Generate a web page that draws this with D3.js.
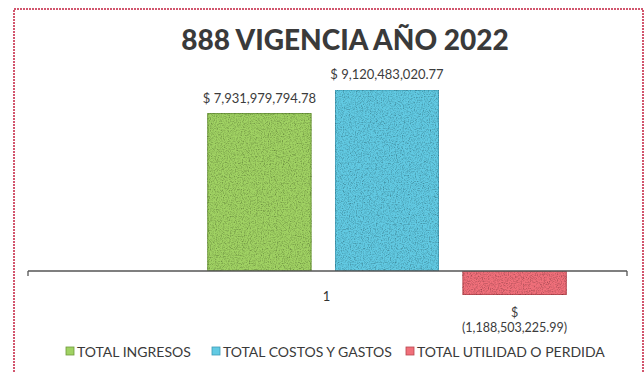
<!DOCTYPE html>
<html>
<head>
<meta charset="utf-8">
<script src="https://cdn.jsdelivr.net/npm/d3@7"></script>
<style>
  html, body { margin: 0; padding: 0; background: #fff; }
  svg { display: block; }
</style>
</head>
<body>
<svg id="chart" width="644" height="372"></svg>
<script>
// Chart data
const title = "888 VIGENCIA AÑO 2022";
const categories = ["1"];
const seriesNames = ["TOTAL INGRESOS", "TOTAL COSTOS Y GASTOS", "TOTAL UTILIDAD O PERDIDA"];
const seriesValues = [7931979794.78, 9120483020.77, -1188503225.99];
const seriesColors = ["#a0d263", "#62cae3", "#f0707a"];
const seriesEdges = ["#6e9a3a", "#3f9cb6", "#b8474f"];

const svg = d3.select("#chart");
const W = 644, H = 372;

// speckled grain for the bar fills
const defs = svg.append("defs");
const grain = defs.append("filter").attr("id", "grain")
  .attr("x", 0).attr("y", 0).attr("width", 1).attr("height", 1);
grain.append("feTurbulence").attr("type", "fractalNoise")
  .attr("baseFrequency", 0.85).attr("numOctaves", 2).attr("seed", 4).attr("result", "noise");
grain.append("feColorMatrix").attr("in", "noise").attr("type", "matrix")
  .attr("values", "0 0 0 0 0  0 0 0 0 0  0 0 0 0 0  0 0 0 1.3 -0.55").attr("result", "speck");
grain.append("feComposite").attr("in", "speck").attr("in2", "SourceGraphic")
  .attr("operator", "in").attr("result", "speckIn");
const merge = grain.append("feMerge");
merge.append("feMergeNode").attr("in", "SourceGraphic");
merge.append("feMergeNode").attr("in", "speckIn");

// outer frame (top and left edges)
svg.append("path")
  .attr("d", `M14,${H} L14,9 L643,9 L643,${H}`)
  .attr("fill", "none")
  .attr("stroke", "#d2566e")
  .attr("stroke-width", 2)
  .attr("stroke-dasharray", "2,1");

// title
svg.append("text")
  .attr("x", 345).attr("y", 50)
  .attr("text-anchor", "middle")
  .attr("font-family", "Lato, 'Open Sans', sans-serif")
  .attr("font-weight", 900)
  .attr("font-size", 28)
  .attr("fill", "#3a3a3a")
  .text(title);

// scales
const plot = { left: 28, right: 627, top: 90, zero: 271 };
const y = d3.scaleLinear()
  .domain([0, d3.max(seriesValues)])
  .range([plot.zero, plot.top]);

const xCat = d3.scaleBand().domain(categories).range([plot.left, plot.right]);
const xSeries = d3.scaleBand()
  .domain(seriesNames)
  .range([195, 579])
  .paddingInner(0.19)
  .paddingOuter(0.1);

// bars
const bars = svg.append("g");
seriesNames.forEach((name, i) => {
  const v = seriesValues[i];
  bars.append("rect")
    .attr("x", xSeries(name))
    .attr("y", Math.min(y(v), y(0)))
    .attr("width", xSeries.bandwidth())
    .attr("height", Math.abs(y(v) - y(0)))
    .attr("fill", seriesColors[i])
    .attr("stroke", seriesEdges[i])
    .attr("stroke-width", 1)
    .attr("filter", "url(#grain)");
});

// category axis
const axisG = svg.append("g").attr("transform", `translate(0,${y(0)})`);
axisG.append("line")
  .attr("x1", plot.left).attr("x2", plot.right)
  .attr("stroke", "#555").attr("stroke-width", 1.3);
[plot.left, plot.right].forEach(xx => {
  axisG.append("line").attr("x1", xx).attr("x2", xx).attr("y1", 0).attr("y2", 5)
    .attr("stroke", "#555").attr("stroke-width", 1.3);
});
axisG.append("text")
  .attr("x", xCat(categories[0]) + xCat.bandwidth() / 2 - 1)
  .attr("y", 30)
  .attr("text-anchor", "middle")
  .attr("font-family", "Lato, sans-serif")
  .attr("font-size", 13)
  .attr("fill", "#333")
  .text(categories[0]);

// value labels
const money = d3.format(",.2f");
const labelFont = "Lato, 'Open Sans', sans-serif";
seriesNames.forEach((name, i) => {
  const v = seriesValues[i];
  const cx = xSeries(name) + xSeries.bandwidth() / 2;
  if (v >= 0) {
    svg.append("text")
      .attr("x", cx).attr("y", y(v) - 11)
      .attr("text-anchor", "middle")
      .attr("font-family", labelFont).attr("font-size", 13)
      .attr("fill", "#3c3c3c")
      .text("$ " + money(v));
  } else {
    const t = svg.append("text")
      .attr("x", cx).attr("y", y(v) + 22)
      .attr("text-anchor", "middle")
      .attr("font-family", labelFont).attr("font-size", 12.5)
      .attr("fill", "#3c3c3c");
    t.append("tspan").attr("x", cx).text("$");
    t.append("tspan").attr("x", cx).attr("dy", 15).text("(" + money(-v) + ")");
  }
});

// legend
const legendX = [66, 212, 406];
const legend = svg.append("g").attr("transform", "translate(0,352)");
seriesNames.forEach((name, i) => {
  const lx = legendX[i];
  legend.append("rect")
    .attr("x", lx).attr("y", -5).attr("width", 8).attr("height", 8)
    .attr("fill", seriesColors[i]).attr("stroke", seriesEdges[i]).attr("stroke-width", 0.8);
  legend.append("text")
    .attr("x", lx + 11).attr("y", 5)
    .attr("font-family", labelFont).attr("font-size", 14)
    .attr("fill", "#3a3a3a")
    .text(name);
});
</script>
</body>
</html>
